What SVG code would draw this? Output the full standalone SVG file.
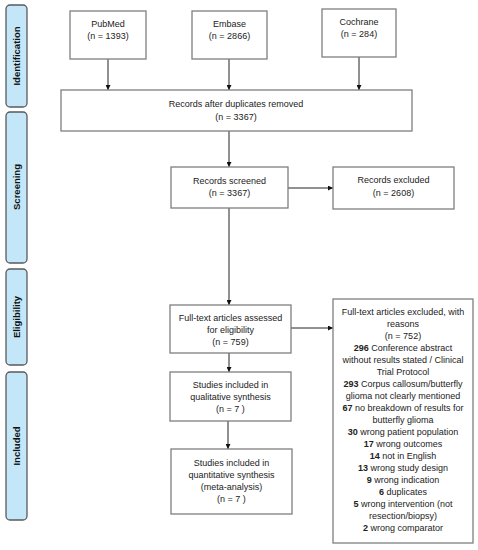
<svg xmlns="http://www.w3.org/2000/svg" width="478" height="550" viewBox="0 0 478 550">
<style>
.box{fill:#fff;stroke:#7f7f7f;stroke-width:1.3}
.side{fill:#c3e7f8;stroke:#5a5a5a;stroke-width:1.3}
text{font-family:"Liberation Sans",Arial,sans-serif;font-size:9px;fill:#222;text-anchor:middle}
.lbl{font-weight:bold;font-size:9.5px;fill:#111}
.b{font-weight:bold}
.conn line{stroke:#222;stroke-width:1}
</style>
<defs>
<marker id="ah" viewBox="0 0 10 10" refX="10" refY="5" markerWidth="5" markerHeight="5" orient="auto">
<path d="M0,0 L10,5 L0,10 z" fill="#111"/>
</marker>
</defs>
<rect width="478" height="550" fill="#fff"/>
<g id="stage-identification"><rect class="side" x="6" y="5" width="21" height="102" rx="4"/><text class="lbl" transform="translate(20,56) rotate(-90)">Identification</text></g>
<g id="stage-screening"><rect class="side" x="6" y="112" width="21" height="151" rx="4"/><text class="lbl" transform="translate(20,187) rotate(-90)">Screening</text></g>
<g id="stage-eligibility"><rect class="side" x="6" y="269" width="21" height="96" rx="4"/><text class="lbl" transform="translate(20,317) rotate(-90)">Eligibility</text></g>
<g id="stage-included"><rect class="side" x="6" y="372" width="21" height="148" rx="4"/><text class="lbl" transform="translate(20,446) rotate(-90)">Included</text></g>

<g class="conn" id="connectors">
<line x1="108" y1="59" x2="108" y2="90" marker-end="url(#ah)"/>
<line x1="229" y1="59" x2="229" y2="90" marker-end="url(#ah)"/>
<line x1="359" y1="57" x2="359" y2="90" marker-end="url(#ah)"/>
<line x1="229" y1="131" x2="229" y2="167" marker-end="url(#ah)"/>
<line x1="288" y1="188" x2="333" y2="188" marker-end="url(#ah)"/>
<line x1="229" y1="208" x2="229" y2="305" marker-end="url(#ah)"/>
<line x1="291" y1="328" x2="333" y2="328" marker-end="url(#ah)"/>
<line x1="229" y1="353" x2="229" y2="372" marker-end="url(#ah)"/>
<line x1="228" y1="421" x2="228" y2="449" marker-end="url(#ah)"/>
</g>

<g id="pubmed"><rect class="box" x="70" y="11" width="76" height="48"/><text x="108" y="27">PubMed</text><text x="108" y="39">(n = 1393)</text></g>
<g id="embase"><rect class="box" x="192" y="11" width="75" height="48"/><text x="229.5" y="27">Embase</text><text x="229.5" y="39">(n = 2866)</text></g>
<g id="cochrane"><rect class="box" x="322" y="9" width="74" height="48"/><text x="359" y="25">Cochrane</text><text x="359" y="37">(n = 284)</text></g>
<g id="duplicates"><rect class="box" x="61" y="90" width="351" height="41"/><text x="236" y="107">Records after duplicates removed</text><text x="236" y="120">(n = 3367)</text></g>
<g id="screened"><rect class="box" x="171" y="167" width="117" height="41"/><text x="229.5" y="184">Records screened</text><text x="229.5" y="196">(n = 3367)</text></g>
<g id="excluded"><rect class="box" x="333" y="167" width="121" height="42"/><text x="393.5" y="183">Records excluded</text><text x="393.5" y="196">(n = 2608)</text></g>
<g id="fulltext"><rect class="box" x="170" y="305" width="121" height="48"/><text x="230.5" y="321">Full-text articles assessed</text><text x="230.5" y="333">for eligibility</text><text x="230.5" y="345">(n = 759)</text></g>
<g id="qualitative"><rect class="box" x="170" y="372" width="121" height="49"/><text x="230.5" y="388">Studies included in</text><text x="230.5" y="400">qualitative synthesis</text><text x="230.5" y="412">(n = 7 )</text></g>
<g id="quantitative"><rect class="box" x="171" y="449" width="121" height="65"/><text x="231.5" y="466">Studies included in</text><text x="231.5" y="478">quantitative synthesis</text><text x="231.5" y="490">(meta-analysis)</text><text x="231.5" y="502">(n = 7 )</text></g>
<g id="reasons"><rect class="box" x="333" y="299" width="140" height="244"/>
<text x="403" y="315">Full-text articles excluded, with</text>
<text x="403" y="327">reasons</text>
<text x="403" y="339">(n = 752)</text>
<text x="403" y="351"><tspan class="b">296</tspan> Conference abstract</text>
<text x="403" y="363">without results stated / Clinical</text>
<text x="403" y="375">Trial Protocol</text>
<text x="403" y="387"><tspan class="b">293</tspan> Corpus callosum/butterfly</text>
<text x="403" y="399">glioma not clearly mentioned</text>
<text x="403" y="411"><tspan class="b">67</tspan> no breakdown of results for</text>
<text x="403" y="423">butterfly glioma</text>
<text x="403" y="435"><tspan class="b">30</tspan> wrong patient population</text>
<text x="403" y="447"><tspan class="b">17</tspan> wrong outcomes</text>
<text x="403" y="459"><tspan class="b">14</tspan> not in English</text>
<text x="403" y="471"><tspan class="b">13</tspan> wrong study design</text>
<text x="403" y="483"><tspan class="b">9</tspan> wrong indication</text>
<text x="403" y="495"><tspan class="b">6</tspan> duplicates</text>
<text x="403" y="507"><tspan class="b">5</tspan> wrong intervention (not</text>
<text x="403" y="519">resection/biopsy)</text>
<text x="403" y="531"><tspan class="b">2</tspan> wrong comparator</text>
</g>
</svg>
